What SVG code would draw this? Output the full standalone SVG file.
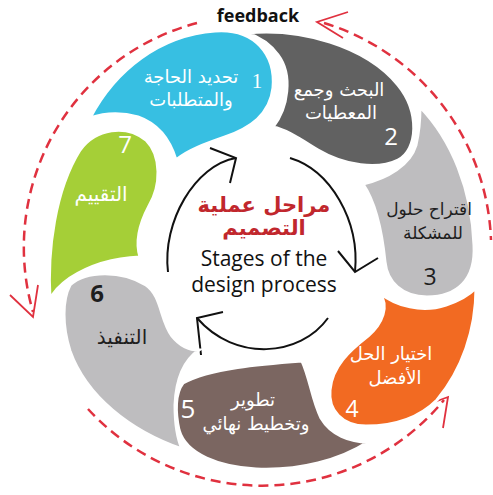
<svg xmlns="http://www.w3.org/2000/svg" width="493" height="495" viewBox="0 0 493 495">
<defs>
<style>
.blob{stroke:#fff;stroke-width:3}
.ar{font-family:"DejaVu Sans","Noto Sans",sans-serif;font-size:18px;text-anchor:middle}
.ar.big{font-size:20px}
.ar.mid{font-size:17px}
.num{font-family:"Open Sans","Liberation Sans",sans-serif;text-anchor:middle}
.w{fill:#fff}
.k{fill:#1e1e1e}
.dash{fill:none;stroke:#e0313f;stroke-width:2.5;stroke-dasharray:10 6}
.head{fill:none;stroke:#e0313f;stroke-width:1.8;stroke-linejoin:miter}
.inner{fill:none;stroke:#111;stroke-width:2}
.en{font-family:"Open Sans","Liberation Sans",sans-serif;font-size:21px;text-anchor:middle;fill:#111}
</style>
</defs>
<rect width="493" height="495" fill="#fff"/>

<g id="connectors">
<path class="dash" d="M197,23 A232,232 0 0 0 33,312"/>
<polyline class="head" points="10,295 33,317 38,285"/>
<path class="dash" d="M324,23 A236,236 0 0 1 491,240"/>
<polyline class="head" points="348,12 317,22 343,38"/>
<path class="dash" d="M88,409 A236,236 0 0 0 444,400"/>
<polyline class="head" points="418,408 448,397 443,428"/>
<path class="inner" d="M168,272 C162,222 195,165 236,158"/>
<polyline class="inner" points="210,148 236,158 230,183"/>
<path class="inner" d="M290,158 C330,170 360,220 355,272"/>
<polyline class="inner" points="338,251 355,272 378,258"/>
<path class="inner" d="M328,318 C300,357 235,362 197,318"/>
<polyline class="inner" points="223,312 197,318 201,355"/>
</g>

<g id="stage1">
<path class="blob" fill="#37bfe2" d="M90,118 C115,70 160,35 215,31 C255,28 276,55 273,88 C270,115 250,128 225,137 C205,144 188,150 176,160 C170,140 158,124 138,117 C120,112 102,114 90,118 Z"/>
<text x="257" y="88" font-family="Liberation Serif,serif" font-size="21" text-anchor="middle" class="w">1</text>
<text class="ar w" x="191" y="83">تحديد الحاجة</text>
<text class="ar w" x="191" y="106">والمتطلبات</text>
</g>

<g id="stage2">
<path class="blob" fill="#616161" d="M247,33 C300,28 365,45 398,85 C420,112 418,150 398,160 C378,170 345,166 318,150 C300,139 287,130 273,127 C288,108 293,75 278,55 C270,44 259,37 247,33 Z"/>
<text class="num w" x="391" y="145" font-size="24">2</text>
<text class="ar w" x="339" y="96">البحث وجمع</text>
<text class="ar w" x="341" y="119">المعطيات</text>
</g>

<g id="stage3">
<path class="blob" fill="#bebdbf" d="M420,107 C452,140 472,190 474,245 C476,280 457,297 427,297 C402,297 387,282 385,262 C382,232 376,203 363,184 C388,178 410,165 416,145 C419,132 420,117 420,107 Z"/>
<text class="num k" x="430" y="285" font-size="23">3</text>
<text class="ar mid k" x="429" y="215">اقتراح حلول</text>
<text class="ar mid k" x="433" y="239">للمشكلة</text>
</g>

<g id="stage4">
<path class="blob" fill="#f26a22" d="M380,293 C396,306 422,313 446,305 C462,300 470,294 476,288 C476,330 462,370 437,400 C417,420 392,426 366,426 C342,426 328,410 330,390 C332,366 350,350 368,336 C383,323 389,306 380,293 Z"/>
<text class="num w" x="352" y="417" font-size="23">4</text>
<text class="ar w" x="391" y="360">اختيار الحل</text>
<text class="ar w" x="395" y="384">الأفضل</text>
</g>

<g id="stage5">
<path class="blob" fill="#7b6661" d="M183,383 C210,368 262,364 302,361 C310,378 312,400 321,418 C331,435 350,442 368,442 C340,460 300,471 256,469 C220,467 186,455 179,430 C175,412 175,393 183,383 Z"/>
<text class="num w" x="188" y="418" font-size="26">5</text>
<text class="ar w" x="253" y="406">تطوير</text>
<text class="ar w" x="256" y="430">وتخطيط نهائي</text>
</g>

<g id="stage6">
<path class="blob" fill="#bebdbf" d="M70,285 C86,270 122,270 146,285 C162,296 160,320 172,336 C180,346 190,350 199,350 C183,361 176,381 175,405 C175,425 178,440 182,449 C130,431 86,396 70,351 C62,326 62,300 70,285 Z"/>
<text class="num k" x="97" y="302" font-size="24" font-weight="bold">6</text>
<text class="ar big k" x="122" y="344">التنفيذ</text>
</g>

<g id="stage7">
<path class="blob" fill="#a5cf37" d="M50,300 C47,250 55,190 80,150 C96,128 126,124 146,140 C162,156 161,186 149,206 C139,225 135,241 140,257 C115,258 90,265 70,278 C60,285 53,292 50,300 Z"/>
<text class="num w" x="125" y="153" font-size="24">7</text>
<text class="ar big w" x="101" y="201">التقييم</text>
</g>

<g id="title">
<text x="258" y="22" font-family="Open Sans,Liberation Sans,sans-serif" font-size="18" font-weight="bold" text-anchor="middle" fill="#111">feedback</text>
<text x="264" y="212" font-family="DejaVu Sans,sans-serif" font-size="21" font-weight="bold" text-anchor="middle" fill="#c1272d">مراحل عملية</text>
<text x="264" y="235" font-family="DejaVu Sans,sans-serif" font-size="21" font-weight="bold" text-anchor="middle" fill="#c1272d">التصميم</text>
<text class="en" x="264" y="266">Stages of the</text>
<text class="en" x="264" y="292">design process</text>
</g>
</svg>
